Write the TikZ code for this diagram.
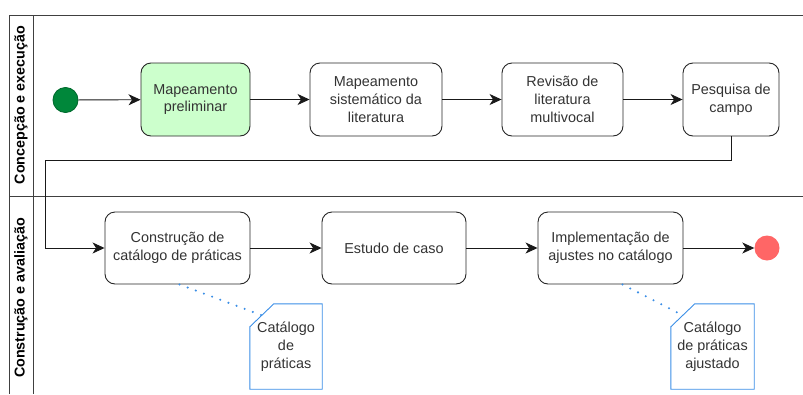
\documentclass[tikz,border=0pt]{standalone}
\usepackage{fontspec}
\setmainfont{Liberation Sans}
\usepackage{xcolor}
\usetikzlibrary{arrows.meta}

\definecolor{txtgray}{HTML}{333333}
\definecolor{boxgreen}{HTML}{CCFFCC}
\definecolor{startgreen}{HTML}{00873A}
\definecolor{endred}{HTML}{FF6666}
\definecolor{docblue}{HTML}{3A8EE6}

\tikzset{
    task/.style={draw=black!85, line width=0.9pt, rounded corners=10pt, fill=white,
                 text=txtgray, align=center, font=\fontsize{14.4}{17.8}\selectfont},
    flow/.style={draw=black!90, line width=0.9pt, -{Stealth[length=12pt,width=11pt,inset=3.5pt]}},
    docbox/.style={text=txtgray, align=center, font=\fontsize{14.4}{17.8}\selectfont},
    docline/.style={draw=docblue, line width=0.9pt},
    assoc/.style={draw=docblue, line width=2.3pt, dash pattern=on 0pt off 8.7pt, line cap=round},
    lane/.style={draw=black!75, line width=0.9pt},
    lanelabel/.style={rotate=90, text=black, font=\bfseries\fontsize{14.3}{17}\selectfont}
}

\begin{document}
\begin{tikzpicture}[x=1pt, y=-1pt]
                \useasboundingbox (0,0) rectangle (803,394);

                \draw[lane] (803,15) -- (9,15) -- (9,394);
                \draw[lane] (33,15) -- (33,394);
                \draw[lane] (9,196) -- (803,196);

                \node[lanelabel] (lane1) at (21,105) {Concepção e execução};
                \node[lanelabel] (lane2) at (21,298) {Construção e avaliação};

                \node[circle, minimum size=25pt, inner sep=0pt, fill=startgreen, draw=startgreen!80!black, line width=0.9pt] (start) at (65.5,100) {};

                \node[task, fill=boxgreen, minimum width=109pt, minimum height=73pt] (prelim) at (195.5,99.5) {Mapeamento\\preliminar};
                \node[task, minimum width=132pt, minimum height=73pt] (sist) at (376,99.5) {Mapeamento\\sistemático da\\literatura};
                \node[task, minimum width=121pt, minimum height=73pt] (multi) at (562.5,99.5) {Revisão de\\literatura\\multivocal};
                \node[task, minimum width=96pt, minimum height=73pt] (campo) at (731,99.5) {Pesquisa de\\campo};

                \node[task, minimum width=145pt, minimum height=72pt] (constr) at (177.5,248) {Construção de\\catálogo de práticas};
                \node[task, minimum width=144pt, minimum height=72pt] (caso) at (394,248) {Estudo de caso};
                \node[task, minimum width=145pt, minimum height=72pt] (ajuste) at (610.5,248) {Implementação de\\ajustes no catálogo};

                \node[circle, minimum size=25pt, inner sep=0pt, fill=endred] (fim) at (767,248) {};

                \node[docbox, minimum width=72pt, minimum height=85pt] (cat) at (286,346.5) {Catálogo\\de\\práticas};
                \node[docbox, minimum width=83pt, minimum height=85pt] (catajust) at (712.5,346.5) {Catálogo\\de práticas\\ajustado};

                \draw[docline] ([yshift=-23pt]cat.north west) -- ([xshift=24pt]cat.north west) -- (cat.north east) -- (cat.south east) -- (cat.south west) -- cycle;
                \draw[docline] ([yshift=-23pt]catajust.north west) -- ([xshift=24pt]catajust.north west) -- (catajust.north east) -- (catajust.south east) -- (catajust.south west) -- cycle;

                \coordinate (c1) at ([xshift=12pt,yshift=-11.5pt]cat.north west);
                \coordinate (c2) at ([xshift=12pt,yshift=-11.5pt]catajust.north west);
                \coordinate (bend) at (45,160);

                \draw[flow] (start) -- (prelim);
                \draw[flow] (prelim) -- (sist);
                \draw[flow] (sist) -- (multi);
                \draw[flow] (multi) -- (campo);
                \draw[flow] (campo.south) |- (bend) |- (constr.west);
                \draw[flow] (constr) -- (caso);
                \draw[flow] (caso) -- (ajuste);
                \draw[flow] (ajuste) -- (fim);

                \draw[assoc] ([xshift=2pt]constr.south) -- (c1);
                \draw[assoc] ([xshift=12pt]ajuste.south) -- (c2);
            \end{tikzpicture}
\end{document}
